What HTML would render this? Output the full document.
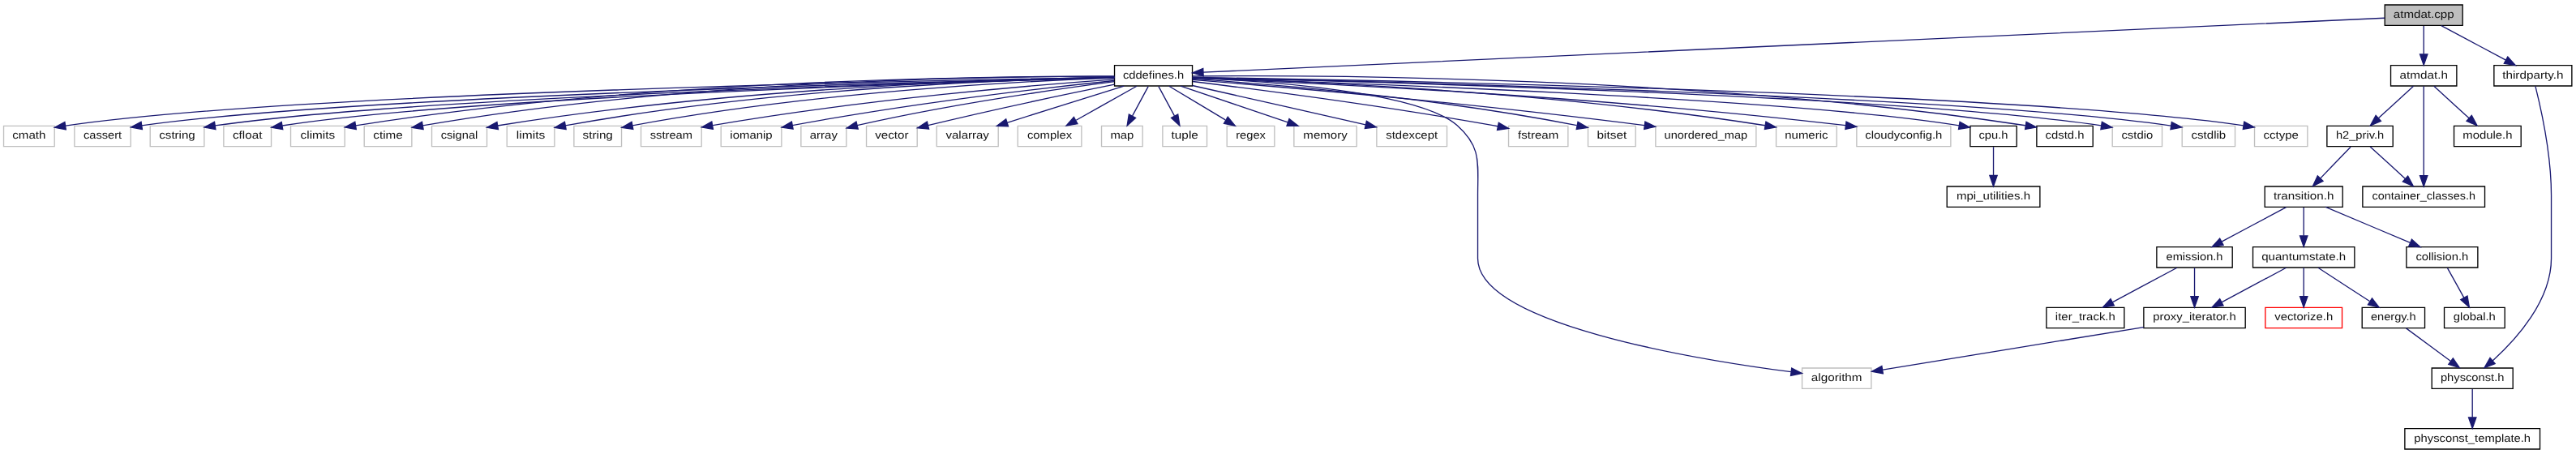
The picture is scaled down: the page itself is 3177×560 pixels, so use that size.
<!DOCTYPE html>
<html><head><meta charset="utf-8"><title>atmdat.cpp</title>
<style>
html,body{margin:0;padding:0;background:#fff;overflow:hidden;}
body{width:3177px;height:560px;}
svg{display:block;will-change:transform;}
text{font-family:"Liberation Sans",sans-serif;font-size:10.00px;text-rendering:geometricPrecision;fill:#111;}
</style></head><body>
<svg width="3178" height="560" viewBox="0 0 2383.5 420">
<g transform="translate(3.40 416)">
<g>
<polygon fill="#bfbfbf" stroke="black" points="2202.5,-392.5 2202.5,-411.5 2274.5,-411.5 2274.5,-392.5 2202.5,-392.5"/>
<text text-anchor="middle" x="2238.5" y="-399.50" textLength="56.12" lengthAdjust="spacingAndGlyphs">atmdat.cpp</text>
</g>
<g>
<polygon fill="white" stroke="black" points="1027.5,-336.5 1027.5,-355.5 1099.5,-355.5 1099.5,-336.5 1027.5,-336.5"/>
<text text-anchor="middle" x="1063.5" y="-343.50" textLength="56.42" lengthAdjust="spacingAndGlyphs">cddefines.h</text>
</g>
<g>
<path fill="none" stroke="midnightblue" d="M2202.37,-399.34C2031.06,-391.47 1300.95,-357.91 1109.58,-349.12"/>
<polygon fill="midnightblue" stroke="midnightblue" points="1109.72,-345.62 1099.57,-348.66 1109.4,-352.61 1109.72,-345.62"/>
</g>
<g>
<polygon fill="white" stroke="black" points="2208,-336.5 2208,-355.5 2269,-355.5 2269,-336.5 2208,-336.5"/>
<text text-anchor="middle" x="2238.5" y="-343.50" textLength="44.56" lengthAdjust="spacingAndGlyphs">atmdat.h</text>
</g>
<g>
<path fill="none" stroke="midnightblue" d="M2238.5,-392.08C2238.5,-385.01 2238.5,-374.86 2238.5,-365.99"/>
<polygon fill="midnightblue" stroke="midnightblue" points="2242,-365.75 2238.5,-355.75 2235,-365.75 2242,-365.75"/>
</g>
<g>
<polygon fill="white" stroke="black" points="2303.5,-336.5 2303.5,-355.5 2375.5,-355.5 2375.5,-336.5 2303.5,-336.5"/>
<text text-anchor="middle" x="2339.5" y="-343.50" textLength="56.39" lengthAdjust="spacingAndGlyphs">thirdparty.h</text>
</g>
<g>
<path fill="none" stroke="midnightblue" d="M2254.73,-392.32C2270.85,-383.7 2295.8,-370.36 2314.46,-360.39"/>
<polygon fill="midnightblue" stroke="midnightblue" points="2316.14,-363.46 2323.31,-355.65 2312.84,-357.28 2316.14,-363.46"/>
</g>
<g>
<polygon fill="white" stroke="#bfbfbf" points="0,-280.5 0,-299.5 47,-299.5 47,-280.5 0,-280.5"/>
<text text-anchor="middle" x="23.5" y="-287.50" textLength="30.84" lengthAdjust="spacingAndGlyphs">cmath</text>
</g>
<g>
<path fill="none" stroke="midnightblue" d="M1027.49,-344.46C873.53,-341.99 269.29,-330.6 57.26,-299.66"/>
<polygon fill="midnightblue" stroke="midnightblue" points="57.57,-296.17 47.16,-298.13 56.52,-303.09 57.57,-296.17"/>
</g>
<g>
<polygon fill="white" stroke="#bfbfbf" points="65.5,-280.5 65.5,-299.5 117.5,-299.5 117.5,-280.5 65.5,-280.5"/>
<text text-anchor="middle" x="91.5" y="-287.50" textLength="35.33" lengthAdjust="spacingAndGlyphs">cassert</text>
</g>
<g>
<path fill="none" stroke="midnightblue" d="M1027.26,-344.25C879.89,-341.03 324.49,-327.43 127.69,-299.82"/>
<polygon fill="midnightblue" stroke="midnightblue" points="128.16,-296.35 117.75,-298.36 127.14,-303.27 128.16,-296.35"/>
</g>
<g>
<polygon fill="white" stroke="#bfbfbf" points="135.5,-280.5 135.5,-299.5 185.5,-299.5 185.5,-280.5 135.5,-280.5"/>
<text text-anchor="middle" x="160.5" y="-287.50" textLength="33.35" lengthAdjust="spacingAndGlyphs">cstring</text>
</g>
<g>
<path fill="none" stroke="midnightblue" d="M1027.5,-344.13C887.48,-340.59 378.43,-326.3 195.64,-299.79"/>
<polygon fill="midnightblue" stroke="midnightblue" points="196.04,-296.31 185.63,-298.27 194.99,-303.23 196.04,-296.31"/>
</g>
<g>
<polygon fill="white" stroke="#bfbfbf" points="203.5,-280.5 203.5,-299.5 247.5,-299.5 247.5,-280.5 203.5,-280.5"/>
<text text-anchor="middle" x="225.5" y="-287.50" textLength="27.26" lengthAdjust="spacingAndGlyphs">cfloat</text>
</g>
<g>
<path fill="none" stroke="midnightblue" d="M1027.29,-344.07C893.6,-340.48 427.16,-326.44 257.72,-299.75"/>
<polygon fill="midnightblue" stroke="midnightblue" points="258.15,-296.28 247.71,-298.1 257.01,-303.18 258.15,-296.28"/>
</g>
<g>
<polygon fill="white" stroke="#bfbfbf" points="265.5,-280.5 265.5,-299.5 315.5,-299.5 315.5,-280.5 265.5,-280.5"/>
<text text-anchor="middle" x="290.5" y="-287.50" textLength="31.89" lengthAdjust="spacingAndGlyphs">climits</text>
</g>
<g>
<path fill="none" stroke="midnightblue" d="M1027.46,-345.32C921.2,-345.73 599.91,-343.17 325.77,-299.87"/>
<polygon fill="midnightblue" stroke="midnightblue" points="326.06,-296.37 315.63,-298.25 324.95,-303.28 326.06,-296.37"/>
</g>
<g>
<polygon fill="white" stroke="#bfbfbf" points="333.5,-280.5 333.5,-299.5 377.5,-299.5 377.5,-280.5 333.5,-280.5"/>
<text text-anchor="middle" x="355.5" y="-287.50" textLength="27.39" lengthAdjust="spacingAndGlyphs">ctime</text>
</g>
<g>
<path fill="none" stroke="midnightblue" d="M1027.21,-345.33C926.68,-345.67 636.17,-342.71 387.65,-299.81"/>
<polygon fill="midnightblue" stroke="midnightblue" points="388.17,-296.35 377.72,-298.07 386.96,-303.25 388.17,-296.35"/>
</g>
<g>
<polygon fill="white" stroke="#bfbfbf" points="396,-280.5 396,-299.5 447,-299.5 447,-280.5 396,-280.5"/>
<text text-anchor="middle" x="421.5" y="-287.50" textLength="34.20" lengthAdjust="spacingAndGlyphs">csignal</text>
</g>
<g>
<path fill="none" stroke="midnightblue" d="M1027.32,-344.55C934.2,-342.93 678.68,-335.47 456.87,-299.73"/>
<polygon fill="midnightblue" stroke="midnightblue" points="457.44,-296.27 447,-298.12 456.31,-303.18 457.44,-296.27"/>
</g>
<g>
<polygon fill="white" stroke="#bfbfbf" points="465.5,-280.5 465.5,-299.5 509.5,-299.5 509.5,-280.5 465.5,-280.5"/>
<text text-anchor="middle" x="487.5" y="-287.50" textLength="26.53" lengthAdjust="spacingAndGlyphs">limits</text>
</g>
<g>
<path fill="none" stroke="midnightblue" d="M1027.46,-344.51C941.13,-342.81 715.68,-335.23 519.63,-299.85"/>
<polygon fill="midnightblue" stroke="midnightblue" points="520.19,-296.39 509.72,-298.03 518.93,-303.28 520.19,-296.39"/>
</g>
<g>
<polygon fill="white" stroke="#bfbfbf" points="527.5,-280.5 527.5,-299.5 571.5,-299.5 571.5,-280.5 527.5,-280.5"/>
<text text-anchor="middle" x="549.5" y="-287.50" textLength="27.99" lengthAdjust="spacingAndGlyphs">string</text>
</g>
<g>
<path fill="none" stroke="midnightblue" d="M1027.42,-343.97C948.22,-341.22 753.18,-331.73 581.69,-299.88"/>
<polygon fill="midnightblue" stroke="midnightblue" points="582.2,-296.42 571.73,-298 580.91,-303.3 582.2,-296.42"/>
</g>
<g>
<polygon fill="white" stroke="#bfbfbf" points="589.5,-280.5 589.5,-299.5 645.5,-299.5 645.5,-280.5 589.5,-280.5"/>
<text text-anchor="middle" x="617.5" y="-287.50" textLength="39.25" lengthAdjust="spacingAndGlyphs">sstream</text>
</g>
<g>
<path fill="none" stroke="midnightblue" d="M1027.44,-342.6C957.59,-337.62 798.84,-324.66 655.96,-300.05"/>
<polygon fill="midnightblue" stroke="midnightblue" points="656.16,-296.53 645.7,-298.26 654.95,-303.43 656.16,-296.53"/>
</g>
<g>
<polygon fill="white" stroke="#bfbfbf" points="663.5,-280.5 663.5,-299.5 719.5,-299.5 719.5,-280.5 663.5,-280.5"/>
<text text-anchor="middle" x="691.5" y="-287.50" textLength="39.22" lengthAdjust="spacingAndGlyphs">iomanip</text>
</g>
<g>
<path fill="none" stroke="midnightblue" d="M1027.11,-341.38C967.13,-335.14 843.6,-321.12 729.65,-300.05"/>
<polygon fill="midnightblue" stroke="midnightblue" points="730.19,-296.59 719.72,-298.19 728.9,-303.47 730.19,-296.59"/>
</g>
<g>
<polygon fill="white" stroke="#bfbfbf" points="737.5,-280.5 737.5,-299.5 779.5,-299.5 779.5,-280.5 737.5,-280.5"/>
<text text-anchor="middle" x="758.5" y="-287.50" textLength="25.57" lengthAdjust="spacingAndGlyphs">array</text>
</g>
<g>
<path fill="none" stroke="midnightblue" d="M1027.33,-340.47C974.65,-333.54 873.89,-319.11 789.5,-300 789.4,-299.98 789.3,-299.96 789.2,-299.93"/>
<polygon fill="midnightblue" stroke="midnightblue" points="790.31,-296.6 779.76,-297.54 788.59,-303.39 790.31,-296.6"/>
</g>
<g>
<polygon fill="white" stroke="#bfbfbf" points="798,-280.5 798,-299.5 845,-299.5 845,-280.5 798,-280.5"/>
<text text-anchor="middle" x="821.5" y="-287.50" textLength="30.93" lengthAdjust="spacingAndGlyphs">vector</text>
</g>
<g>
<path fill="none" stroke="midnightblue" d="M1027.49,-337.86C987.69,-329.84 921.48,-316.09 855.05,-300.03"/>
<polygon fill="midnightblue" stroke="midnightblue" points="855.8,-296.61 845.25,-297.64 854.14,-303.41 855.8,-296.61"/>
</g>
<g>
<polygon fill="white" stroke="#bfbfbf" points="863,-280.5 863,-299.5 920,-299.5 920,-280.5 863,-280.5"/>
<text text-anchor="middle" x="891.5" y="-287.50" textLength="40.02" lengthAdjust="spacingAndGlyphs">valarray</text>
</g>
<g>
<path fill="none" stroke="midnightblue" d="M1036.25,-336.44C1007.06,-327.28 960.58,-312.69 928.19,-302.52"/>
<polygon fill="midnightblue" stroke="midnightblue" points="929.22,-299.17 918.63,-299.52 927.12,-305.85 929.22,-299.17"/>
</g>
<g>
<polygon fill="white" stroke="#bfbfbf" points="938,-280.5 938,-299.5 997,-299.5 997,-280.5 938,-280.5"/>
<text text-anchor="middle" x="967.5" y="-287.50" textLength="41.32" lengthAdjust="spacingAndGlyphs">complex</text>
</g>
<g>
<path fill="none" stroke="midnightblue" d="M1048.08,-336.32C1032.96,-327.82 1009.68,-314.73 992.03,-304.8"/>
<polygon fill="midnightblue" stroke="midnightblue" points="993.32,-301.51 982.89,-299.65 989.89,-307.61 993.32,-301.51"/>
</g>
<g>
<polygon fill="white" stroke="#bfbfbf" points="1015.5,-280.5 1015.5,-299.5 1053.5,-299.5 1053.5,-280.5 1015.5,-280.5"/>
<text text-anchor="middle" x="1034.5" y="-287.50" textLength="21.66" lengthAdjust="spacingAndGlyphs">map</text>
</g>
<g>
<path fill="none" stroke="midnightblue" d="M1058.71,-336.08C1054.74,-328.69 1048.97,-317.95 1044.07,-308.81"/>
<polygon fill="midnightblue" stroke="midnightblue" points="1047.01,-306.91 1039.2,-299.75 1040.85,-310.22 1047.01,-306.91"/>
</g>
<g>
<polygon fill="white" stroke="#bfbfbf" points="1072,-280.5 1072,-299.5 1113,-299.5 1113,-280.5 1072,-280.5"/>
<text text-anchor="middle" x="1092.5" y="-287.50" textLength="24.90" lengthAdjust="spacingAndGlyphs">tuple</text>
</g>
<g>
<path fill="none" stroke="midnightblue" d="M1068.29,-336.08C1072.26,-328.69 1078.03,-317.95 1082.93,-308.81"/>
<polygon fill="midnightblue" stroke="midnightblue" points="1086.15,-310.22 1087.8,-299.75 1079.99,-306.91 1086.15,-310.22"/>
</g>
<g>
<polygon fill="white" stroke="#bfbfbf" points="1131.5,-280.5 1131.5,-299.5 1175.5,-299.5 1175.5,-280.5 1131.5,-280.5"/>
<text text-anchor="middle" x="1153.5" y="-287.50" textLength="27.58" lengthAdjust="spacingAndGlyphs">regex</text>
</g>
<g>
<path fill="none" stroke="midnightblue" d="M1077.96,-336.32C1092,-327.9 1113.55,-314.97 1130.04,-305.07"/>
<polygon fill="midnightblue" stroke="midnightblue" points="1132.3,-307.8 1139.08,-299.65 1128.7,-301.8 1132.3,-307.8"/>
</g>
<g>
<polygon fill="white" stroke="#bfbfbf" points="1193.5,-280.5 1193.5,-299.5 1251.5,-299.5 1251.5,-280.5 1193.5,-280.5"/>
<text text-anchor="middle" x="1222.5" y="-287.50" textLength="40.74" lengthAdjust="spacingAndGlyphs">memory</text>
</g>
<g>
<path fill="none" stroke="midnightblue" d="M1088.69,-336.44C1115.44,-327.36 1157.9,-312.94 1187.81,-302.78"/>
<polygon fill="midnightblue" stroke="midnightblue" points="1189.08,-306.05 1197.42,-299.52 1186.83,-299.42 1189.08,-306.05"/>
</g>
<g>
<polygon fill="white" stroke="#bfbfbf" points="1270,-280.5 1270,-299.5 1335,-299.5 1335,-280.5 1270,-280.5"/>
<text text-anchor="middle" x="1302.5" y="-287.50" textLength="47.89" lengthAdjust="spacingAndGlyphs">stdexcept</text>
</g>
<g>
<path fill="none" stroke="midnightblue" d="M1099.54,-336.86C1142.46,-327.16 1214.06,-310.98 1259.74,-300.66"/>
<polygon fill="midnightblue" stroke="midnightblue" points="1260.65,-304.04 1269.63,-298.43 1259.11,-297.22 1260.65,-304.04"/>
</g>
<g>
<polygon fill="white" stroke="#bfbfbf" points="1663.5,-56.5 1663.5,-75.5 1727.5,-75.5 1727.5,-56.5 1663.5,-56.5"/>
<text text-anchor="middle" x="1695.5" y="-63.50" textLength="47.06" lengthAdjust="spacingAndGlyphs">algorithm</text>
</g>
<g>
<path fill="none" stroke="midnightblue" d="M1099.68,-343.89C1167.19,-341.1 1308.74,-331.53 1344.5,-300 1367.08,-280.1 1363.5,-265.1 1363.5,-235 1363.5,-235 1363.5,-235 1363.5,-177 1363.5,-116.62 1563.86,-83.67 1653.28,-71.97"/>
<polygon fill="midnightblue" stroke="midnightblue" points="1653.89,-75.42 1663.36,-70.68 1653,-68.48 1653.89,-75.42"/>
</g>
<g>
<polygon fill="white" stroke="#bfbfbf" points="1392,-280.5 1392,-299.5 1447,-299.5 1447,-280.5 1392,-280.5"/>
<text text-anchor="middle" x="1419.5" y="-287.50" textLength="37.60" lengthAdjust="spacingAndGlyphs">fstream</text>
</g>
<g>
<path fill="none" stroke="midnightblue" d="M1099.89,-340.61C1158.53,-333.35 1277.48,-317.86 1377.5,-300 1378.97,-299.74 1380.46,-299.46 1381.97,-299.18"/>
<polygon fill="midnightblue" stroke="midnightblue" points="1382.87,-302.57 1391.99,-297.18 1381.5,-295.7 1382.87,-302.57"/>
</g>
<g>
<polygon fill="white" stroke="#bfbfbf" points="1465.5,-280.5 1465.5,-299.5 1509.5,-299.5 1509.5,-280.5 1465.5,-280.5"/>
<text text-anchor="middle" x="1487.5" y="-287.50" textLength="27.62" lengthAdjust="spacingAndGlyphs">bitset</text>
</g>
<g>
<path fill="none" stroke="midnightblue" d="M1099.58,-342.91C1167.47,-338.54 1318.92,-326.71 1455.07,-299.98"/>
<polygon fill="midnightblue" stroke="midnightblue" points="1456.14,-303.33 1465.26,-297.94 1454.77,-296.47 1456.14,-303.33"/>
</g>
<g>
<polygon fill="white" stroke="#bfbfbf" points="1528,-280.5 1528,-299.5 1621,-299.5 1621,-280.5 1528,-280.5"/>
<text text-anchor="middle" x="1574.5" y="-287.50" textLength="76.87" lengthAdjust="spacingAndGlyphs">unordered_map</text>
</g>
<g>
<path fill="none" stroke="midnightblue" d="M1099.56,-342.18C1175.05,-336.13 1355.43,-320.81 1517.62,-300.04"/>
<polygon fill="midnightblue" stroke="midnightblue" points="1518.31,-303.48 1527.78,-298.73 1517.41,-296.54 1518.31,-303.48"/>
</g>
<g>
<polygon fill="white" stroke="#bfbfbf" points="1639.5,-280.5 1639.5,-299.5 1695.5,-299.5 1695.5,-280.5 1639.5,-280.5"/>
<text text-anchor="middle" x="1667.5" y="-287.50" textLength="39.93" lengthAdjust="spacingAndGlyphs">numeric</text>
</g>
<g>
<path fill="none" stroke="midnightblue" d="M1099.56,-344.13C1188.19,-341.57 1423.84,-332.18 1629.25,-299.95"/>
<polygon fill="midnightblue" stroke="midnightblue" points="1629.99,-303.38 1639.31,-298.35 1628.89,-296.46 1629.99,-303.38"/>
</g>
<g>
<polygon fill="white" stroke="#bfbfbf" points="1714,-280.5 1714,-299.5 1801,-299.5 1801,-280.5 1714,-280.5"/>
<text text-anchor="middle" x="1757.5" y="-287.50" textLength="71.29" lengthAdjust="spacingAndGlyphs">cloudyconfig.h</text>
</g>
<g>
<path fill="none" stroke="midnightblue" d="M1099.76,-343.7C1196.24,-339.98 1467.39,-327.8 1703.72,-299.97"/>
<polygon fill="midnightblue" stroke="midnightblue" points="1704.36,-303.41 1713.88,-298.76 1703.53,-296.46 1704.36,-303.41"/>
</g>
<g>
<polygon fill="white" stroke="black" points="1819,-280.5 1819,-299.5 1862,-299.5 1862,-280.5 1819,-280.5"/>
<text text-anchor="middle" x="1840.5" y="-287.50" textLength="27.01" lengthAdjust="spacingAndGlyphs">cpu.h</text>
</g>
<g>
<path fill="none" stroke="midnightblue" d="M1099.66,-343.93C1226.66,-340 1652.54,-325.36 1808.79,-299.87"/>
<polygon fill="midnightblue" stroke="midnightblue" points="1809.42,-303.32 1818.69,-298.18 1808.24,-296.42 1809.42,-303.32"/>
</g>
<g>
<polygon fill="white" stroke="black" points="1880.5,-280.5 1880.5,-299.5 1932.5,-299.5 1932.5,-280.5 1880.5,-280.5"/>
<text text-anchor="middle" x="1906.5" y="-287.50" textLength="35.92" lengthAdjust="spacingAndGlyphs">cdstd.h</text>
</g>
<g>
<path fill="none" stroke="midnightblue" d="M1099.6,-345.5C1212.37,-346.53 1568.01,-345.77 1869.97,-299.92"/>
<polygon fill="midnightblue" stroke="midnightblue" points="1870.89,-303.32 1880.24,-298.34 1869.83,-296.4 1870.89,-303.32"/>
</g>
<g>
<polygon fill="white" stroke="#bfbfbf" points="1950.5,-280.5 1950.5,-299.5 1996.5,-299.5 1996.5,-280.5 1950.5,-280.5"/>
<text text-anchor="middle" x="1973.5" y="-287.50" textLength="29.13" lengthAdjust="spacingAndGlyphs">cstdio</text>
</g>
<g>
<path fill="none" stroke="midnightblue" d="M1099.89,-344.22C1241.39,-341 1755.86,-327.76 1940.12,-299.8"/>
<polygon fill="midnightblue" stroke="midnightblue" points="1940.89,-303.22 1950.22,-298.2 1939.79,-296.31 1940.89,-303.22"/>
</g>
<g>
<polygon fill="white" stroke="#bfbfbf" points="2015,-280.5 2015,-299.5 2064,-299.5 2064,-280.5 2015,-280.5"/>
<text text-anchor="middle" x="2039.5" y="-287.50" textLength="32.06" lengthAdjust="spacingAndGlyphs">cstdlib</text>
</g>
<g>
<path fill="none" stroke="midnightblue" d="M1099.68,-344.29C1247.47,-341.25 1806.43,-328.18 2004.73,-299.7"/>
<polygon fill="midnightblue" stroke="midnightblue" points="2005.37,-303.14 2014.75,-298.2 2004.34,-296.22 2005.37,-303.14"/>
</g>
<g>
<polygon fill="white" stroke="#bfbfbf" points="2082,-280.5 2082,-299.5 2131,-299.5 2131,-280.5 2082,-280.5"/>
<text text-anchor="middle" x="2106.5" y="-287.50" textLength="32.50" lengthAdjust="spacingAndGlyphs">cctype</text>
</g>
<g>
<path fill="none" stroke="midnightblue" d="M1099.62,-344.46C1254.03,-342.01 1860.07,-330.68 2071.69,-299.91"/>
<polygon fill="midnightblue" stroke="midnightblue" points="2072.4,-303.34 2081.76,-298.38 2071.35,-296.42 2072.4,-303.34"/>
</g>
<g>
<polygon fill="white" stroke="black" points="1797.5,-224.5 1797.5,-243.5 1883.5,-243.5 1883.5,-224.5 1797.5,-224.5"/>
<text text-anchor="middle" x="1840.5" y="-231.50" textLength="68.29" lengthAdjust="spacingAndGlyphs">mpi_utilities.h</text>
</g>
<g>
<path fill="none" stroke="midnightblue" d="M1840.5,-280.08C1840.5,-273.01 1840.5,-262.86 1840.5,-253.99"/>
<polygon fill="midnightblue" stroke="midnightblue" points="1844,-253.75 1840.5,-243.75 1837,-253.75 1844,-253.75"/>
</g>
<g>
<polygon fill="white" stroke="black" points="2149,-280.5 2149,-299.5 2210,-299.5 2210,-280.5 2149,-280.5"/>
<text text-anchor="middle" x="2179.5" y="-287.50" textLength="44.46" lengthAdjust="spacingAndGlyphs">h2_priv.h</text>
</g>
<g>
<path fill="none" stroke="midnightblue" d="M2229.02,-336.32C2220.3,-328.34 2207.16,-316.31 2196.6,-306.65"/>
<polygon fill="midnightblue" stroke="midnightblue" points="2198.89,-304 2189.15,-299.83 2194.17,-309.17 2198.89,-304"/>
</g>
<g>
<polygon fill="white" stroke="black" points="2182,-224.5 2182,-243.5 2295,-243.5 2295,-224.5 2182,-224.5"/>
<text text-anchor="middle" x="2238.5" y="-231.50" textLength="95.63" lengthAdjust="spacingAndGlyphs">container_classes.h</text>
</g>
<g>
<path fill="none" stroke="midnightblue" d="M2238.5,-336.37C2238.5,-318.62 2238.5,-277.67 2238.5,-253.6"/>
<polygon fill="midnightblue" stroke="midnightblue" points="2242,-253.59 2238.5,-243.59 2235,-253.59 2242,-253.59"/>
</g>
<g>
<polygon fill="white" stroke="black" points="2266.5,-280.5 2266.5,-299.5 2328.5,-299.5 2328.5,-280.5 2266.5,-280.5"/>
<text text-anchor="middle" x="2297.5" y="-287.50" textLength="45.82" lengthAdjust="spacingAndGlyphs">module.h</text>
</g>
<g>
<path fill="none" stroke="midnightblue" d="M2247.98,-336.32C2256.7,-328.34 2269.84,-316.31 2280.4,-306.65"/>
<polygon fill="midnightblue" stroke="midnightblue" points="2282.83,-309.17 2287.85,-299.83 2278.11,-304 2282.83,-309.17"/>
</g>
<g>
<polygon fill="white" stroke="black" points="2091.5,-224.5 2091.5,-243.5 2163.5,-243.5 2163.5,-224.5 2091.5,-224.5"/>
<text text-anchor="middle" x="2127.5" y="-231.50" textLength="55.73" lengthAdjust="spacingAndGlyphs">transition.h</text>
</g>
<g>
<path fill="none" stroke="midnightblue" d="M2170.91,-280.08C2163.34,-272.22 2152.12,-260.57 2142.99,-251.08"/>
<polygon fill="midnightblue" stroke="midnightblue" points="2145.38,-248.53 2135.93,-243.75 2140.34,-253.38 2145.38,-248.53"/>
</g>
<g>
<path fill="none" stroke="midnightblue" d="M2188.98,-280.32C2197.7,-272.34 2210.84,-260.31 2221.4,-250.65"/>
<polygon fill="midnightblue" stroke="midnightblue" points="2223.83,-253.17 2228.85,-243.83 2219.11,-248 2223.83,-253.17"/>
</g>
<g>
<polygon fill="white" stroke="black" points="1991.5,-168.5 1991.5,-187.5 2061.5,-187.5 2061.5,-168.5 1991.5,-168.5"/>
<text text-anchor="middle" x="2026.5" y="-175.50" textLength="52.50" lengthAdjust="spacingAndGlyphs">emission.h</text>
</g>
<g>
<path fill="none" stroke="midnightblue" d="M2111.27,-224.32C2095.15,-215.7 2070.2,-202.36 2051.54,-192.39"/>
<polygon fill="midnightblue" stroke="midnightblue" points="2053.16,-189.28 2042.69,-187.65 2049.86,-195.46 2053.16,-189.28"/>
</g>
<g>
<polygon fill="white" stroke="black" points="2080.5,-168.5 2080.5,-187.5 2174.5,-187.5 2174.5,-168.5 2080.5,-168.5"/>
<text text-anchor="middle" x="2127.5" y="-175.50" textLength="78.00" lengthAdjust="spacingAndGlyphs">quantumstate.h</text>
</g>
<g>
<path fill="none" stroke="midnightblue" d="M2127.5,-224.08C2127.5,-217.01 2127.5,-206.86 2127.5,-197.99"/>
<polygon fill="midnightblue" stroke="midnightblue" points="2131,-197.75 2127.5,-187.75 2124,-197.75 2131,-197.75"/>
</g>
<g>
<polygon fill="white" stroke="black" points="2222.5,-168.5 2222.5,-187.5 2288.5,-187.5 2288.5,-168.5 2222.5,-168.5"/>
<text text-anchor="middle" x="2255.5" y="-175.50" textLength="48.66" lengthAdjust="spacingAndGlyphs">collision.h</text>
</g>
<g>
<path fill="none" stroke="midnightblue" d="M2147.78,-224.44C2168.85,-215.56 2202.02,-201.56 2225.99,-191.45"/>
<polygon fill="midnightblue" stroke="midnightblue" points="2227.46,-194.63 2235.31,-187.52 2224.74,-188.18 2227.46,-194.63"/>
</g>
<g>
<polygon fill="white" stroke="black" points="1889.5,-112.5 1889.5,-131.5 1961.5,-131.5 1961.5,-112.5 1889.5,-112.5"/>
<text text-anchor="middle" x="1925.5" y="-119.50" textLength="55.51" lengthAdjust="spacingAndGlyphs">iter_track.h</text>
</g>
<g>
<path fill="none" stroke="midnightblue" d="M2010.27,-168.32C1994.15,-159.7 1969.2,-146.36 1950.54,-136.39"/>
<polygon fill="midnightblue" stroke="midnightblue" points="1952.16,-133.28 1941.69,-131.65 1948.86,-139.46 1952.16,-133.28"/>
</g>
<g>
<polygon fill="white" stroke="black" points="1979.5,-112.5 1979.5,-131.5 2073.5,-131.5 2073.5,-112.5 1979.5,-112.5"/>
<text text-anchor="middle" x="2026.5" y="-119.50" textLength="76.76" lengthAdjust="spacingAndGlyphs">proxy_iterator.h</text>
</g>
<g>
<path fill="none" stroke="midnightblue" d="M2026.5,-168.08C2026.5,-161.01 2026.5,-150.86 2026.5,-141.99"/>
<polygon fill="midnightblue" stroke="midnightblue" points="2030,-141.75 2026.5,-131.75 2023,-141.75 2030,-141.75"/>
</g>
<g>
<path fill="none" stroke="midnightblue" d="M1979.43,-113.32C1914.98,-102.81 1800.2,-84.08 1738.15,-73.96"/>
<polygon fill="midnightblue" stroke="midnightblue" points="1738.36,-70.45 1727.93,-72.29 1737.24,-77.36 1738.36,-70.45"/>
</g>
<g>
<path fill="none" stroke="midnightblue" d="M2111.27,-168.32C2095.15,-159.7 2070.2,-146.36 2051.54,-136.39"/>
<polygon fill="midnightblue" stroke="midnightblue" points="2053.16,-133.28 2042.69,-131.65 2049.86,-139.46 2053.16,-133.28"/>
</g>
<g>
<polygon fill="white" stroke="red" points="2092,-112.5 2092,-131.5 2163,-131.5 2163,-112.5 2092,-112.5"/>
<text text-anchor="middle" x="2127.5" y="-119.50" textLength="54.03" lengthAdjust="spacingAndGlyphs">vectorize.h</text>
</g>
<g>
<path fill="none" stroke="midnightblue" d="M2127.5,-168.08C2127.5,-161.01 2127.5,-150.86 2127.5,-141.99"/>
<polygon fill="midnightblue" stroke="midnightblue" points="2131,-141.75 2127.5,-131.75 2124,-141.75 2131,-141.75"/>
</g>
<g>
<polygon fill="white" stroke="black" points="2181.5,-112.5 2181.5,-131.5 2239.5,-131.5 2239.5,-112.5 2181.5,-112.5"/>
<text text-anchor="middle" x="2210.5" y="-119.50" textLength="41.86" lengthAdjust="spacingAndGlyphs">energy.h</text>
</g>
<g>
<path fill="none" stroke="midnightblue" d="M2140.84,-168.32C2153.66,-159.98 2173.28,-147.21 2188.44,-137.35"/>
<polygon fill="midnightblue" stroke="midnightblue" points="2190.72,-140.04 2197.2,-131.65 2186.91,-134.17 2190.72,-140.04"/>
</g>
<g>
<polygon fill="white" stroke="black" points="2246,-56.5 2246,-75.5 2321,-75.5 2321,-56.5 2246,-56.5"/>
<text text-anchor="middle" x="2283.5" y="-63.50" textLength="58.91" lengthAdjust="spacingAndGlyphs">physconst.h</text>
</g>
<g>
<path fill="none" stroke="midnightblue" d="M2222.23,-112.32C2233.34,-104.11 2250.24,-91.6 2263.48,-81.81"/>
<polygon fill="midnightblue" stroke="midnightblue" points="2265.6,-84.59 2271.56,-75.83 2261.44,-78.97 2265.6,-84.59"/>
</g>
<g>
<polygon fill="white" stroke="black" points="2221,-0.5 2221,-19.5 2346,-19.5 2346,-0.5 2221,-0.5"/>
<text text-anchor="middle" x="2283.5" y="-7.50" textLength="107.79" lengthAdjust="spacingAndGlyphs">physconst_template.h</text>
</g>
<g>
<path fill="none" stroke="midnightblue" d="M2283.5,-56.08C2283.5,-49.01 2283.5,-38.86 2283.5,-29.99"/>
<polygon fill="midnightblue" stroke="midnightblue" points="2287,-29.75 2283.5,-19.75 2280,-29.75 2287,-29.75"/>
</g>
<g>
<polygon fill="white" stroke="black" points="2257.5,-112.5 2257.5,-131.5 2313.5,-131.5 2313.5,-112.5 2257.5,-112.5"/>
<text text-anchor="middle" x="2285.5" y="-119.50" textLength="39.01" lengthAdjust="spacingAndGlyphs">global.h</text>
</g>
<g>
<path fill="none" stroke="midnightblue" d="M2260.45,-168.08C2264.6,-160.61 2270.65,-149.72 2275.77,-140.52"/>
<polygon fill="midnightblue" stroke="midnightblue" points="2278.84,-142.19 2280.64,-131.75 2272.72,-138.79 2278.84,-142.19"/>
</g>
<g>
<path fill="none" stroke="midnightblue" d="M2341.79,-336.23C2346.43,-317.69 2356.5,-273.07 2356.5,-235 2356.5,-235 2356.5,-235 2356.5,-177 2356.5,-137.78 2323.88,-101.84 2302.25,-82.32"/>
<polygon fill="midnightblue" stroke="midnightblue" points="2304.43,-79.58 2294.59,-75.67 2299.85,-84.87 2304.43,-79.58"/>
</g>
</g>
</svg>
</body></html>
